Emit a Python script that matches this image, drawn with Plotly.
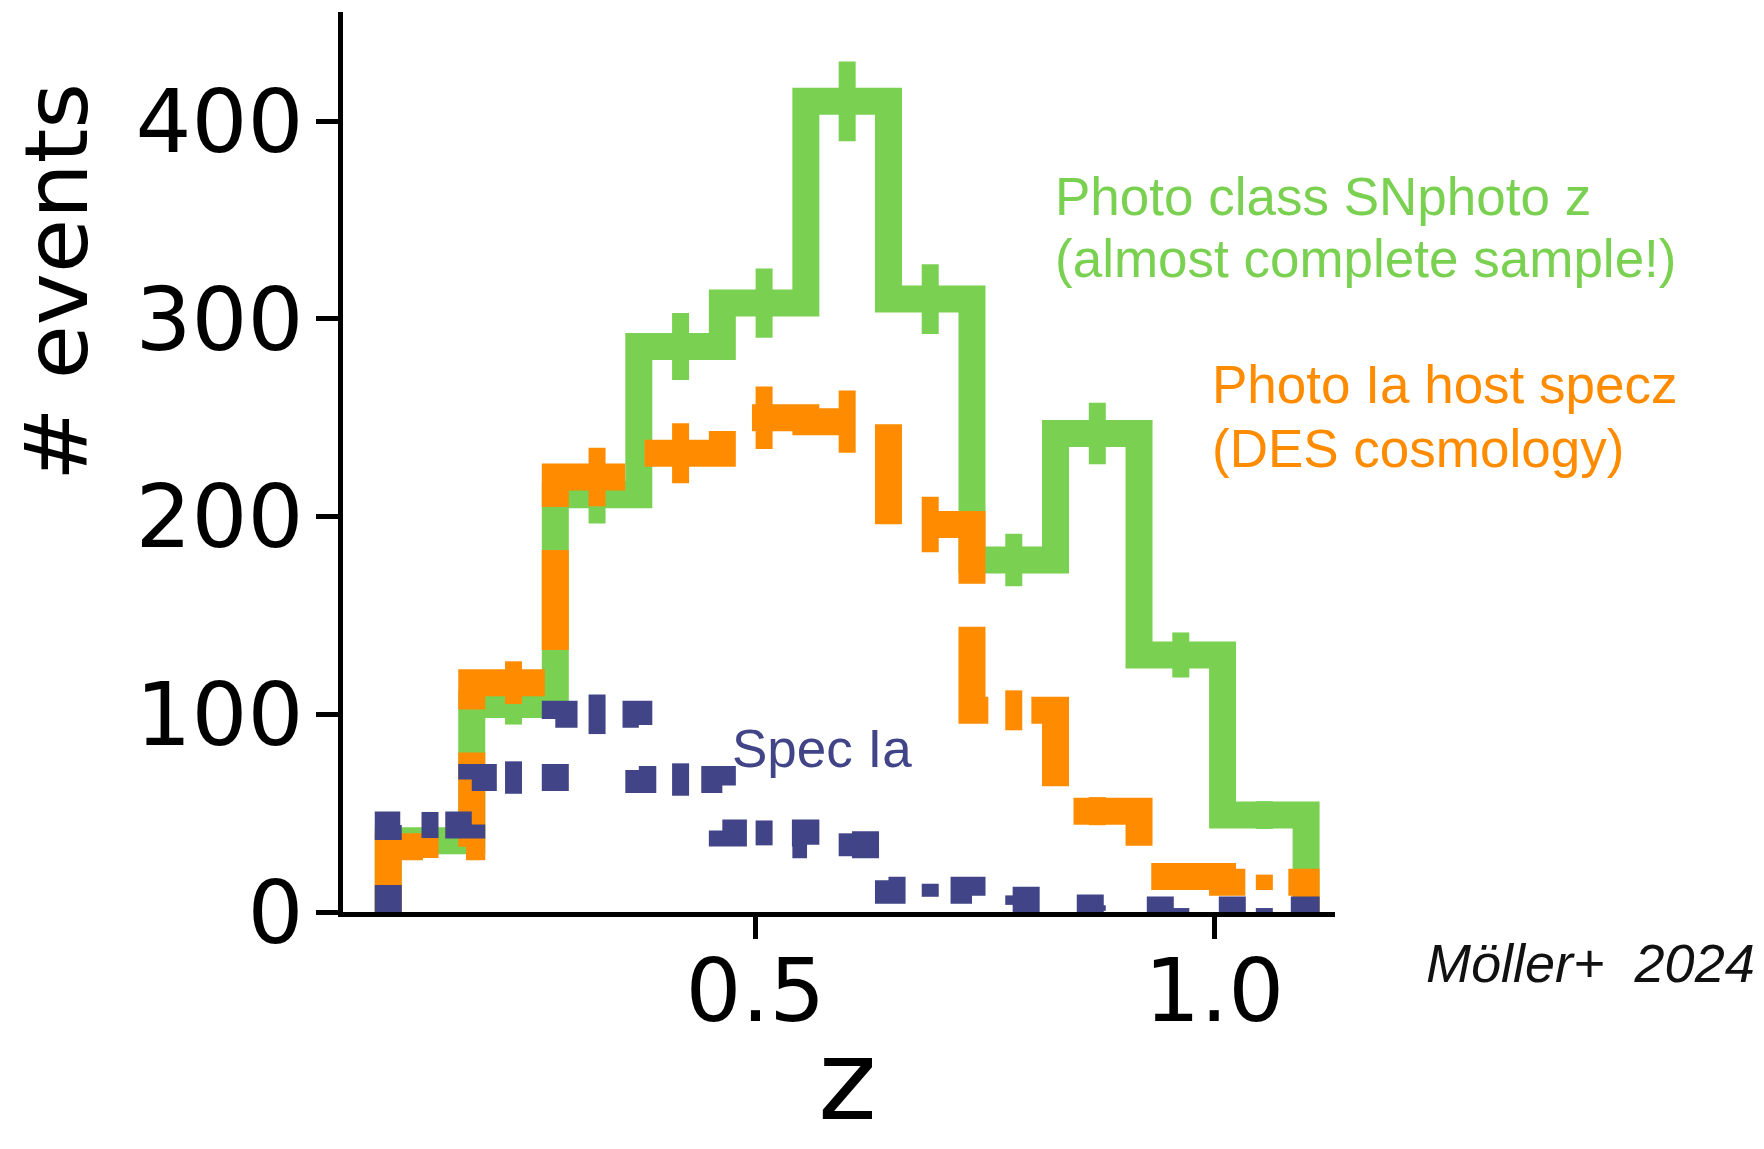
import plotly.graph_objects as go

# ---------------- data ----------------
z_edges = [0.100, 0.191, 0.282, 0.373, 0.464, 0.555, 0.645, 0.736, 0.827, 0.918, 1.009, 1.100]

photo_snphotoz = [36, 105, 211, 286, 308, 410, 310, 178, 242, 130, 49]
photo_snphotoz_err = [6.0, 10.2, 14.5, 16.9, 17.5, 20.2, 17.6, 13.3, 15.6, 11.4, 7.0]

photo_hostspecz = [33, 116, 220, 232, 250, 248, 196, 102, 51, 18, 15]
photo_hostspecz_err = [5.7, 10.8, 14.8, 15.2, 15.8, 15.7, 14.0, 10.1, 7.1, 4.2, 3.9]

spec_ia = [44, 68, 100, 67, 40, 34, 11, 6, 2, 1, 1]
spec_ia_err = [6.6, 8.2, 10.0, 8.2, 6.3, 5.8, 3.3, 2.4, 1.4, 1.0, 1.0]

y_ticks = [0, 100, 200, 300, 400]
x_ticks = [0.5, 1.0]
x_ticklabels = ["0.5", "1.0"]

GREEN = "#7ad151"
ORANGE = "#ff8c00"
BLUE = "#414487"

# ---------------- geometry ----------------
W, H = 1764, 1149
PL, PR, PT, PB = 343, 1335, 12, 912
X_RANGE = [0.0507, 1.1315]
Y_RANGE = [0, 455.2]
LW = 27
ELW = 17


def px_x(x):
    return (x - PL) / (PR - PL)


def px_y(y):
    return (PB - y) / (PB - PT)


def step_path(edges, vals):
    xs, ys = [edges[0]], [0]
    for i, v in enumerate(vals):
        xs += [edges[i], edges[i + 1]]
        ys += [v, v]
    xs.append(edges[-1])
    ys.append(0)
    return xs, ys


def err_path(edges, vals, errs):
    xs, ys = [], []
    for i, (v, e) in enumerate(zip(vals, errs)):
        c = 0.5 * (edges[i] + edges[i + 1])
        xs += [c, c, None]
        ys += [v - e, v + e, None]
    return xs, ys


fig = go.Figure()

series = [
    (photo_snphotoz, photo_snphotoz_err, GREEN, "solid", "Photo class SNphoto z"),
    (photo_hostspecz, photo_hostspecz_err, ORANGE, "%dpx,%dpx" % (100, 43), "Photo Ia host specz"),
    (spec_ia, spec_ia_err, BLUE, "%dpx,%dpx" % (27, 45), "Spec Ia"),
]

for vals, errs, col, dash, name in series:
    sx, sy = step_path(z_edges, vals)
    fig.add_trace(go.Scatter(x=sx, y=sy, mode="lines", name=name,
                             line=dict(color=col, width=LW, dash=dash, simplify=False),
                             hoverinfo="skip", showlegend=False))
    ex, ey = err_path(z_edges, vals, errs)
    fig.add_trace(go.Scatter(x=ex, y=ey, mode="lines", name=name + " err",
                             line=dict(color=col, width=ELW), connectgaps=False,
                             hoverinfo="skip", showlegend=False))

TICKFONT = dict(family="DejaVu Sans", size=88, color="black")

fig.update_layout(
    width=W, height=H,
    margin=dict(l=PL, r=W - PR, t=PT, b=H - PB, pad=0),
    paper_bgcolor="white", plot_bgcolor="white",
    xaxis=dict(range=X_RANGE, tickvals=x_ticks, ticktext=x_ticklabels,
               showgrid=False, zeroline=False, showline=True, linecolor="black", linewidth=5,
               ticks="outside", ticklen=22, tickwidth=5, tickcolor="black",
               tickfont=TICKFONT, ticklabelstandoff=-24),
    yaxis=dict(range=Y_RANGE, tickvals=y_ticks,
               showgrid=False, zeroline=False, showline=True, linecolor="black", linewidth=5,
               ticks="outside", ticklen=22, tickwidth=5, tickcolor="black",
               tickfont=TICKFONT, ticklabelstandoff=-5),
)

ANN_FONT = "Liberation Sans, Arial, sans-serif"


def label(text, x_left, baseline, color, size=53, family=ANN_FONT):
    # box centre ~ baseline - 0.3465 em for Liberation Sans
    fig.add_annotation(x=px_x(x_left), y=px_y(baseline - 0.3465 * size),
                       xref="paper", yref="paper", xanchor="left", yanchor="middle",
                       text=text, showarrow=False,
                       font=dict(family=family, size=size, color=color))


label("Photo class SNphoto z", 1053, 215, GREEN)
label("(almost complete sample!)", 1053, 277, GREEN)
label("Photo Ia host specz", 1210, 403, ORANGE)
label("(DES cosmology)", 1210, 467, ORANGE)
label("Spec Ia", 730, 767, BLUE)
label("<i>Möller+\u00a0 2024</i>", 1424, 982, "#111111", size=54)

# axis titles as annotations
fig.add_annotation(x=px_x(56), y=px_y(282), xref="paper", yref="paper",
                   xanchor="center", yanchor="middle", textangle=-90,
                   text="# events", showarrow=False,
                   font=dict(family="DejaVu Sans", size=88, color="black"))
fig.add_annotation(x=px_x(847), y=px_y(1147), xref="paper", yref="paper",
                   xanchor="center", yanchor="bottom",
                   text="z", showarrow=False,
                   font=dict(family="DejaVu Sans", size=112, color="black"))

fig.write_html("out.html")
